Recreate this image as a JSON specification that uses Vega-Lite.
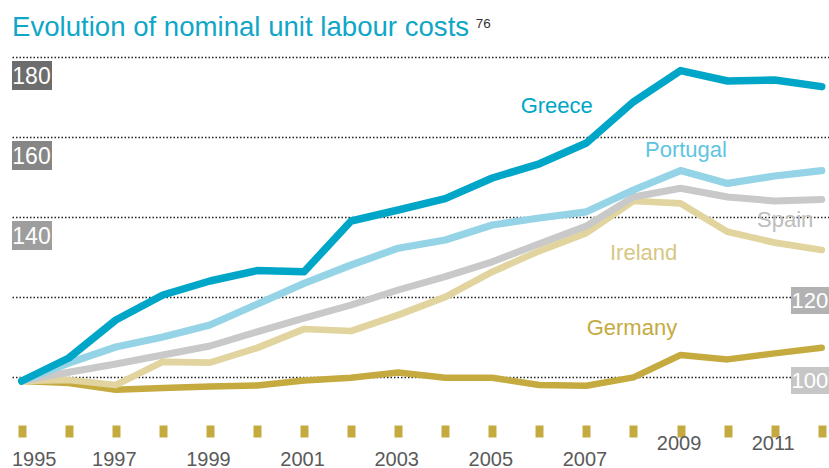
{
  "$schema": "https://vega.github.io/schema/vega-lite/v6.json",
  "width": 817,
  "height": 468,
  "autosize": {"type": "none"},
  "padding": {"left": 12, "top": 0, "right": 0, "bottom": 0},
  "background": "white",
  "config": {"view": {"stroke": null}, "font": "Liberation Sans"},
  "layer": [
    {
      "data": {"values": [
        {"country": "Germany", "year": 1995, "value": 99}, {"country": "Germany", "year": 1996, "value": 98.5}, {"country": "Germany", "year": 1997, "value": 96.8}, {"country": "Germany", "year": 1998, "value": 97.25}, {"country": "Germany", "year": 1999, "value": 97.6}, {"country": "Germany", "year": 2000, "value": 97.9}, {"country": "Germany", "year": 2001, "value": 99.1}, {"country": "Germany", "year": 2002, "value": 99.8}, {"country": "Germany", "year": 2003, "value": 101.1}, {"country": "Germany", "year": 2004, "value": 99.8}, {"country": "Germany", "year": 2005, "value": 99.8}, {"country": "Germany", "year": 2006, "value": 98}, {"country": "Germany", "year": 2007, "value": 97.8}, {"country": "Germany", "year": 2008, "value": 99.9}, {"country": "Germany", "year": 2009, "value": 105.5}, {"country": "Germany", "year": 2010, "value": 104.4}, {"country": "Germany", "year": 2011, "value": 105.9}, {"country": "Germany", "year": 2012, "value": 107.3},
        {"country": "Ireland", "year": 1995, "value": 99}, {"country": "Ireland", "year": 1996, "value": 99.25}, {"country": "Ireland", "year": 1997, "value": 98}, {"country": "Ireland", "year": 1998, "value": 103.8}, {"country": "Ireland", "year": 1999, "value": 103.6}, {"country": "Ireland", "year": 2000, "value": 107.25}, {"country": "Ireland", "year": 2001, "value": 112}, {"country": "Ireland", "year": 2002, "value": 111.5}, {"country": "Ireland", "year": 2003, "value": 115.5}, {"country": "Ireland", "year": 2004, "value": 120}, {"country": "Ireland", "year": 2005, "value": 126.3}, {"country": "Ireland", "year": 2006, "value": 131.5}, {"country": "Ireland", "year": 2007, "value": 136}, {"country": "Ireland", "year": 2008, "value": 144}, {"country": "Ireland", "year": 2009, "value": 143.4}, {"country": "Ireland", "year": 2010, "value": 136.3}, {"country": "Ireland", "year": 2011, "value": 133.6}, {"country": "Ireland", "year": 2012, "value": 131.75},
        {"country": "Spain", "year": 1995, "value": 99}, {"country": "Spain", "year": 1996, "value": 101.2}, {"country": "Spain", "year": 1997, "value": 103.25}, {"country": "Spain", "year": 1998, "value": 105.5}, {"country": "Spain", "year": 1999, "value": 107.75}, {"country": "Spain", "year": 2000, "value": 111.3}, {"country": "Spain", "year": 2001, "value": 114.7}, {"country": "Spain", "year": 2002, "value": 118}, {"country": "Spain", "year": 2003, "value": 121.75}, {"country": "Spain", "year": 2004, "value": 125.1}, {"country": "Spain", "year": 2005, "value": 128.8}, {"country": "Spain", "year": 2006, "value": 133.3}, {"country": "Spain", "year": 2007, "value": 137.75}, {"country": "Spain", "year": 2008, "value": 145}, {"country": "Spain", "year": 2009, "value": 147.2}, {"country": "Spain", "year": 2010, "value": 145}, {"country": "Spain", "year": 2011, "value": 144}, {"country": "Spain", "year": 2012, "value": 144.4},
        {"country": "Portugal", "year": 1995, "value": 99}, {"country": "Portugal", "year": 1996, "value": 103.5}, {"country": "Portugal", "year": 1997, "value": 107.5}, {"country": "Portugal", "year": 1998, "value": 110}, {"country": "Portugal", "year": 1999, "value": 113}, {"country": "Portugal", "year": 2000, "value": 118.2}, {"country": "Portugal", "year": 2001, "value": 123.4}, {"country": "Portugal", "year": 2002, "value": 128}, {"country": "Portugal", "year": 2003, "value": 132.2}, {"country": "Portugal", "year": 2004, "value": 134.25}, {"country": "Portugal", "year": 2005, "value": 138}, {"country": "Portugal", "year": 2006, "value": 139.75}, {"country": "Portugal", "year": 2007, "value": 141.3}, {"country": "Portugal", "year": 2008, "value": 146.75}, {"country": "Portugal", "year": 2009, "value": 151.6}, {"country": "Portugal", "year": 2010, "value": 148.4}, {"country": "Portugal", "year": 2011, "value": 150.25}, {"country": "Portugal", "year": 2012, "value": 151.6},
        {"country": "Greece", "year": 1995, "value": 99}, {"country": "Greece", "year": 1996, "value": 104.75}, {"country": "Greece", "year": 1997, "value": 114.25}, {"country": "Greece", "year": 1998, "value": 120.5}, {"country": "Greece", "year": 1999, "value": 124}, {"country": "Greece", "year": 2000, "value": 126.6}, {"country": "Greece", "year": 2001, "value": 126.3}, {"country": "Greece", "year": 2002, "value": 139}, {"country": "Greece", "year": 2003, "value": 141.75}, {"country": "Greece", "year": 2004, "value": 144.6}, {"country": "Greece", "year": 2005, "value": 149.75}, {"country": "Greece", "year": 2006, "value": 153.3}, {"country": "Greece", "year": 2007, "value": 158.5}, {"country": "Greece", "year": 2008, "value": 168.8}, {"country": "Greece", "year": 2009, "value": 176.6}, {"country": "Greece", "year": 2010, "value": 174}, {"country": "Greece", "year": 2011, "value": 174.25}, {"country": "Greece", "year": 2012, "value": 172.6}
      ]},
      "mark": {"type": "line", "strokeCap": "round", "strokeJoin": "round"},
      "encoding": {
        "x": {"field": "year", "type": "quantitative", "scale": {"domain": [1994.794, 2012.155], "nice": false, "zero": false},
          "axis": {"values": [1995, 1996, 1997, 1998, 1999, 2000, 2001, 2002, 2003, 2004, 2005, 2006, 2007, 2008, 2009, 2010, 2011, 2012], "format": "d", "labelExpr": "datum.value % 2 == 1 ? datum.label : ''", "domain": false, "grid": false, "ticks": true, "tickSize": 12, "tickWidth": 8, "tickColor": "#c5ab3f", "tickCap": "butt", "offset": -43, "labelFontSize": 20, "labelColor": "#5a5a5a", "labelFont": "Liberation Sans", "labelBaseline": "alphabetic", "labelPadding": {"condition": {"test": "datum.value >= 2009", "value": 12}, "value": 28}, "labelOffset": {"condition": {"test": "datum.value == 1995", "value": 12}, "value": -2}, "labelFlush": false, "labelOverlap": false, "title": null}},
        "y": {"field": "value", "type": "quantitative", "scale": {"domain": [77.25, 194.25], "nice": false, "zero": false},
          "axis": {"values": [100, 120, 140, 160, 180], "grid": true, "gridColor": "#222222", "gridDash": [1.5, 2], "gridWidth": 1.6, "labels": false, "ticks": false, "domain": false, "title": null}},
        "color": {"field": "country", "type": "nominal", "scale": {"domain": ["Greece", "Portugal", "Spain", "Ireland", "Germany"], "range": ["#00a6c8", "#95d4e6", "#c9c9c9", "#e1d49e", "#c5ab3f"]}, "legend": null},
        "strokeWidth": {"field": "country", "type": "nominal", "scale": {"domain": ["Greece", "Portugal", "Spain", "Ireland", "Germany"], "range": [7.5, 6.5, 6.5, 6.5, 6.5]}, "legend": null}
      }
    },
    {
      "data": {"values": [{"value": 180}, {"value": 160}, {"value": 140}]},
      "mark": {"type": "rect", "yOffset": 4, "y2Offset": 33},
      "encoding": {
        "x": {"datum": 1994.794}, "x2": {"datum": 1995.644},
        "y": {"field": "value", "type": "quantitative"}, "y2": {"field": "value"},
        "fill": {"field": "value", "type": "ordinal", "scale": {"domain": [100, 120, 140, 160, 180], "range": ["#c6c6c6", "#b2b2b2", "#9e9e9e", "#868686", "#6d6d6d"]}, "legend": null}
      }
    },
    {
      "data": {"values": [{"value": 120}, {"value": 100}]},
      "mark": {"type": "rect", "yOffset": -10, "y2Offset": 17},
      "encoding": {
        "x": {"datum": 2011.347}, "x2": {"datum": 2012.155},
        "y": {"field": "value", "type": "quantitative"}, "y2": {"field": "value"},
        "fill": {"field": "value", "type": "ordinal", "scale": {"domain": [100, 120, 140, 160, 180], "range": ["#c6c6c6", "#b2b2b2", "#9e9e9e", "#868686", "#6d6d6d"]}, "legend": null}
      }
    },
    {
      "data": {"values": [{"value": 180}, {"value": 160}, {"value": 140}]},
      "mark": {"type": "text", "align": "center", "baseline": "alphabetic", "dy": 26.5, "fontSize": 23, "font": "Liberation Sans", "color": "white"},
      "encoding": {"x": {"datum": 1995.208}, "y": {"field": "value", "type": "quantitative"}, "text": {"field": "value", "type": "quantitative"}}
    },
    {
      "data": {"values": [{"value": 120}, {"value": 100}]},
      "mark": {"type": "text", "align": "center", "baseline": "alphabetic", "dy": 11, "fontSize": 22, "font": "Liberation Sans", "color": "white"},
      "encoding": {"x": {"datum": 2011.75}, "y": {"field": "value", "type": "quantitative"}, "text": {"field": "value", "type": "quantitative"}}
    },
    {
      "data": {"values": [{}]},
      "mark": {"type": "text", "align": "left", "baseline": "alphabetic", "fontSize": 27.6, "color": "#10a6c8"},
      "encoding": {"x": {"datum": 1994.794}, "y": {"datum": 185.25}, "text": {"value": "Evolution of nominal unit labour costs"}}
    },
    {
      "data": {"values": [{}]},
      "mark": {"type": "text", "align": "left", "baseline": "alphabetic", "fontSize": 13.5, "color": "#333333"},
      "encoding": {"x": {"datum": 2004.65}, "y": {"datum": 187.2}, "text": {"value": "76"}}
    },
    {
      "data": {"values": [{}]},
      "mark": {"type": "text", "align": "left", "baseline": "alphabetic", "fontSize": 22, "color": "#00a6c8"},
      "encoding": {"x": {"datum": 2005.603}, "y": {"datum": 165.9}, "text": {"value": "Greece"}}
    },
    {
      "data": {"values": [{}]},
      "mark": {"type": "text", "align": "left", "baseline": "alphabetic", "fontSize": 22, "color": "#5ec4df"},
      "encoding": {"x": {"datum": 2008.245}, "y": {"datum": 154.9}, "text": {"value": "Portugal"}}
    },
    {
      "data": {"values": [{}]},
      "mark": {"type": "text", "align": "left", "baseline": "alphabetic", "fontSize": 22, "color": "#bdbdbd"},
      "encoding": {"x": {"datum": 2010.625}, "y": {"datum": 137.4}, "text": {"value": "Spain"}}
    },
    {
      "data": {"values": [{}]},
      "mark": {"type": "text", "align": "left", "baseline": "alphabetic", "fontSize": 22, "color": "#d6c784"},
      "encoding": {"x": {"datum": 2007.501}, "y": {"datum": 129.25}, "text": {"value": "Ireland"}}
    },
    {
      "data": {"values": [{}]},
      "mark": {"type": "text", "align": "left", "baseline": "alphabetic", "fontSize": 22, "color": "#c5ab3f"},
      "encoding": {"x": {"datum": 2007.006}, "y": {"datum": 110.5}, "text": {"value": "Germany"}}
    }
  ]
}
